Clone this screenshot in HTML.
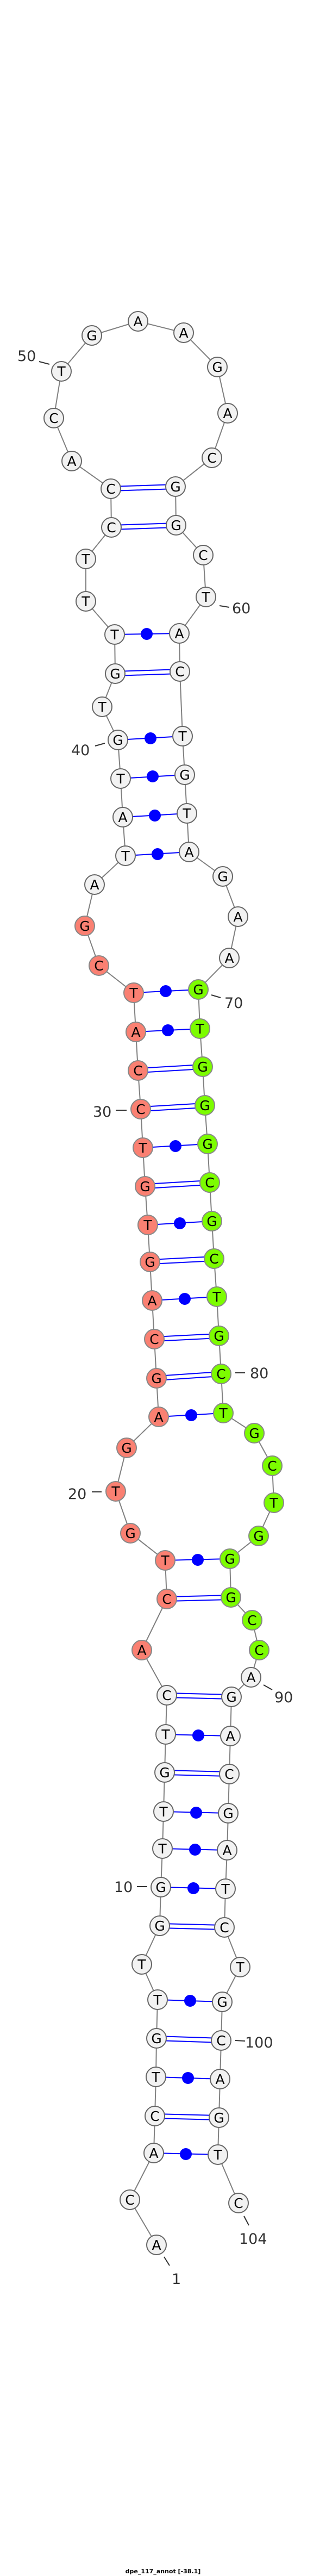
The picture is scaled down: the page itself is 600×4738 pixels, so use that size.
<!DOCTYPE html>
<html><head><meta charset="utf-8"><style>
html,body{margin:0;padding:0;background:#fff;}
svg{display:block;}
.n{fill:#f2f2f2;stroke:#666;stroke-width:2;}
.r{fill:#fa8072;stroke:#888;stroke-width:2;}
.g{fill:#7cfc00;stroke:#888;stroke-width:2;}
.t{font-family:"DejaVu Sans","Liberation Sans",sans-serif;font-size:25px;text-anchor:middle;fill:#000;}
.l{font-family:"DejaVu Sans","Liberation Sans",sans-serif;font-size:27px;fill:#333;}
.k{stroke:#333;stroke-width:2;}
.p{stroke:#0000ff;stroke-width:2;}
</style></head><body>
<svg width="600" height="4738" viewBox="0 0 600 4738" xmlns="http://www.w3.org/2000/svg">
<polyline fill="none" stroke="#808080" stroke-width="2" points="288,4129 239,4046 283,3960 285,3892 287,3820 288,3749 290,3678 261,3613 294,3542 296,3471 299,3400 301,3332 303,3260 305,3190 307,3118 261,3035 307,2941 304,2870 240,2820 213,2743 233,2663 292,2606 288,2535 284,2463 280,2392 276,2321 272,2253 267,2182 263,2111 259,2040 254,1969 250,1898 246,1826 182,1776 156,1703 174,1627 231,1574 226,1503 222,1432 217,1361 188,1300 212,1239 211,1167 158,1106 158,1028 205,970 204,899 132,848 99,769 113,683 169,617 254,591 338,612 400,675 419,760 390,842 323,895 324,966 374,1021 379,1098 330,1165 331,1235 336,1354 340,1425 344,1496 348,1567 410,1612 438,1686 422,1762 365,1820 368,1892 373,1962 377,2033 382,2104 386,2175 390,2246 394,2315 399,2385 403,2457 407,2527 411,2599 468,2636 501,2696 504,2764 476,2825 423,2867 425,2938 464,2980 477,3035 462,3085 426,3121 424,3193 422,3263 420,3335 418,3403 415,3474 413,3545 442,3618 409,3682 407,3753 405,3824 403,3895 401,3963 439,4052"/>
<g class="p">
<line x1="204" y1="895" x2="323" y2="891"/><line x1="204" y1="903" x2="323" y2="899"/>
<line x1="205" y1="966" x2="324" y2="962"/><line x1="205" y1="974" x2="324" y2="970"/>
<line x1="211" y1="1167" x2="330" y2="1165"/>
<line x1="212" y1="1235" x2="331" y2="1231"/><line x1="212" y1="1243" x2="331" y2="1239"/>
<line x1="217" y1="1361" x2="336" y2="1354"/>
<line x1="222" y1="1432" x2="340" y2="1425"/>
<line x1="226" y1="1503" x2="344" y2="1496"/>
<line x1="231" y1="1574" x2="348" y2="1567"/>
<line x1="246" y1="1826" x2="365" y2="1820"/>
<line x1="250" y1="1898" x2="368" y2="1892"/>
<line x1="254" y1="1965" x2="373" y2="1958"/><line x1="254" y1="1973" x2="373" y2="1966"/>
<line x1="259" y1="2036" x2="377" y2="2029"/><line x1="259" y1="2044" x2="377" y2="2037"/>
<line x1="263" y1="2111" x2="382" y2="2104"/>
<line x1="267" y1="2178" x2="386" y2="2171"/><line x1="267" y1="2186" x2="386" y2="2179"/>
<line x1="272" y1="2253" x2="390" y2="2246"/>
<line x1="276" y1="2317" x2="394" y2="2311"/><line x1="276" y1="2325" x2="394" y2="2319"/>
<line x1="280" y1="2392" x2="399" y2="2385"/>
<line x1="284" y1="2459" x2="403" y2="2453"/><line x1="284" y1="2467" x2="403" y2="2461"/>
<line x1="288" y1="2531" x2="407" y2="2523"/><line x1="288" y1="2539" x2="407" y2="2531"/>
<line x1="292" y1="2606" x2="411" y2="2599"/>
<line x1="304" y1="2870" x2="423" y2="2867"/>
<line x1="307" y1="2937" x2="425" y2="2934"/><line x1="307" y1="2945" x2="425" y2="2942"/>
<line x1="307" y1="3114" x2="426" y2="3117"/><line x1="307" y1="3122" x2="426" y2="3125"/>
<line x1="305" y1="3190" x2="424" y2="3193"/>
<line x1="303" y1="3256" x2="422" y2="3259"/><line x1="303" y1="3264" x2="422" y2="3267"/>
<line x1="301" y1="3332" x2="420" y2="3335"/>
<line x1="299" y1="3400" x2="418" y2="3403"/>
<line x1="296" y1="3471" x2="415" y2="3474"/>
<line x1="294" y1="3538" x2="413" y2="3541"/><line x1="294" y1="3546" x2="413" y2="3549"/>
<line x1="290" y1="3678" x2="409" y2="3682"/>
<line x1="288" y1="3745" x2="407" y2="3749"/><line x1="288" y1="3753" x2="407" y2="3757"/>
<line x1="287" y1="3820" x2="405" y2="3824"/>
<line x1="285" y1="3888" x2="403" y2="3891"/><line x1="285" y1="3896" x2="403" y2="3899"/>
<line x1="283" y1="3960" x2="401" y2="3963"/>
</g>
<g fill="#0000ff">
<circle cx="270" cy="1166" r="11"/><circle cx="277" cy="1358" r="11"/><circle cx="281" cy="1428" r="11"/><circle cx="285" cy="1500" r="11"/><circle cx="290" cy="1571" r="11"/>
<circle cx="305" cy="1823" r="11"/><circle cx="309" cy="1895" r="11"/><circle cx="323" cy="2108" r="11"/><circle cx="331" cy="2250" r="11"/><circle cx="340" cy="2389" r="11"/><circle cx="352" cy="2603" r="11"/>
<circle cx="364" cy="2869" r="11"/><circle cx="365" cy="3192" r="11"/><circle cx="361" cy="3334" r="11"/><circle cx="359" cy="3402" r="11"/><circle cx="356" cy="3473" r="11"/><circle cx="350" cy="3680" r="11"/><circle cx="346" cy="3822" r="11"/><circle cx="342" cy="3962" r="11"/>
</g>
<g class="k">
<line x1="72" y1="665" x2="91" y2="670"/>
<line x1="404" y1="1114" x2="422" y2="1117"/>
<line x1="175" y1="1372" x2="193" y2="1367"/>
<line x1="389" y1="1830" x2="406" y2="1835"/>
<line x1="213" y1="2042" x2="233" y2="2042"/>
<line x1="433" y1="2525" x2="451" y2="2525"/>
<line x1="169" y1="2744" x2="187" y2="2744"/>
<line x1="485" y1="3099" x2="501" y2="3108"/>
<line x1="252" y1="3470" x2="271" y2="3470"/>
<line x1="433" y1="3753" x2="451" y2="3754"/>
<line x1="449" y1="4076" x2="458" y2="4093"/>
<line x1="302" y1="4151" x2="312" y2="4167"/>
</g>
<g class="l">
<text x="32" y="664">50</text>
<text x="427" y="1128">60</text>
<text x="131" y="1389">40</text>
<text x="413" y="1854">70</text>
<text x="171" y="2054">30</text>
<text x="460" y="2535">80</text>
<text x="125" y="2757">20</text>
<text x="505" y="3131">90</text>
<text x="210" y="3480">10</text>
<text x="451" y="3766">100</text>
<text x="440" y="4127">104</text>
<text x="316" y="4201">1</text>
</g>
<g>
<circle class="n" cx="288" cy="4129" r="18"/><circle class="n" cx="239" cy="4046" r="18"/><circle class="n" cx="283" cy="3960" r="18"/><circle class="n" cx="285" cy="3892" r="18"/><circle class="n" cx="287" cy="3820" r="18"/><circle class="n" cx="288" cy="3749" r="18"/><circle class="n" cx="290" cy="3678" r="18"/><circle class="n" cx="261" cy="3613" r="18"/><circle class="n" cx="294" cy="3542" r="18"/><circle class="n" cx="296" cy="3471" r="18"/><circle class="n" cx="299" cy="3400" r="18"/><circle class="n" cx="301" cy="3332" r="18"/><circle class="n" cx="303" cy="3260" r="18"/><circle class="n" cx="305" cy="3190" r="18"/><circle class="n" cx="307" cy="3118" r="18"/>
<circle class="r" cx="261" cy="3035" r="18"/><circle class="r" cx="307" cy="2941" r="18"/><circle class="r" cx="304" cy="2870" r="18"/><circle class="r" cx="240" cy="2820" r="18"/><circle class="r" cx="213" cy="2743" r="18"/><circle class="r" cx="233" cy="2663" r="18"/><circle class="r" cx="292" cy="2606" r="18"/><circle class="r" cx="288" cy="2535" r="18"/><circle class="r" cx="284" cy="2463" r="18"/><circle class="r" cx="280" cy="2392" r="18"/><circle class="r" cx="276" cy="2321" r="18"/><circle class="r" cx="272" cy="2253" r="18"/><circle class="r" cx="267" cy="2182" r="18"/><circle class="r" cx="263" cy="2111" r="18"/><circle class="r" cx="259" cy="2040" r="18"/><circle class="r" cx="254" cy="1969" r="18"/><circle class="r" cx="250" cy="1898" r="18"/><circle class="r" cx="246" cy="1826" r="18"/><circle class="r" cx="182" cy="1776" r="18"/><circle class="r" cx="156" cy="1703" r="18"/>
<circle class="n" cx="174" cy="1627" r="18"/><circle class="n" cx="231" cy="1574" r="18"/><circle class="n" cx="226" cy="1503" r="18"/><circle class="n" cx="222" cy="1432" r="18"/><circle class="n" cx="217" cy="1361" r="18"/><circle class="n" cx="188" cy="1300" r="18"/><circle class="n" cx="212" cy="1239" r="18"/><circle class="n" cx="211" cy="1167" r="18"/><circle class="n" cx="158" cy="1106" r="18"/><circle class="n" cx="158" cy="1028" r="18"/><circle class="n" cx="205" cy="970" r="18"/><circle class="n" cx="204" cy="899" r="18"/><circle class="n" cx="132" cy="848" r="18"/><circle class="n" cx="99" cy="769" r="18"/><circle class="n" cx="113" cy="683" r="18"/><circle class="n" cx="169" cy="617" r="18"/><circle class="n" cx="254" cy="591" r="18"/><circle class="n" cx="338" cy="612" r="18"/><circle class="n" cx="400" cy="675" r="18"/><circle class="n" cx="419" cy="760" r="18"/><circle class="n" cx="390" cy="842" r="18"/><circle class="n" cx="323" cy="895" r="18"/><circle class="n" cx="324" cy="966" r="18"/><circle class="n" cx="374" cy="1021" r="18"/><circle class="n" cx="379" cy="1098" r="18"/><circle class="n" cx="330" cy="1165" r="18"/><circle class="n" cx="331" cy="1235" r="18"/><circle class="n" cx="336" cy="1354" r="18"/><circle class="n" cx="340" cy="1425" r="18"/><circle class="n" cx="344" cy="1496" r="18"/><circle class="n" cx="348" cy="1567" r="18"/><circle class="n" cx="410" cy="1612" r="18"/><circle class="n" cx="438" cy="1686" r="18"/><circle class="n" cx="422" cy="1762" r="18"/>
<circle class="g" cx="365" cy="1820" r="18"/><circle class="g" cx="368" cy="1892" r="18"/><circle class="g" cx="373" cy="1962" r="18"/><circle class="g" cx="377" cy="2033" r="18"/><circle class="g" cx="382" cy="2104" r="18"/><circle class="g" cx="386" cy="2175" r="18"/><circle class="g" cx="390" cy="2246" r="18"/><circle class="g" cx="394" cy="2315" r="18"/><circle class="g" cx="399" cy="2385" r="18"/><circle class="g" cx="403" cy="2457" r="18"/><circle class="g" cx="407" cy="2527" r="18"/><circle class="g" cx="411" cy="2599" r="18"/><circle class="g" cx="468" cy="2636" r="18"/><circle class="g" cx="501" cy="2696" r="18"/><circle class="g" cx="504" cy="2764" r="18"/><circle class="g" cx="476" cy="2825" r="18"/><circle class="g" cx="423" cy="2867" r="18"/><circle class="g" cx="425" cy="2938" r="18"/><circle class="g" cx="464" cy="2980" r="18"/><circle class="g" cx="477" cy="3035" r="18"/>
<circle class="n" cx="462" cy="3085" r="18"/><circle class="n" cx="426" cy="3121" r="18"/><circle class="n" cx="424" cy="3193" r="18"/><circle class="n" cx="422" cy="3263" r="18"/><circle class="n" cx="420" cy="3335" r="18"/><circle class="n" cx="418" cy="3403" r="18"/><circle class="n" cx="415" cy="3474" r="18"/><circle class="n" cx="413" cy="3545" r="18"/><circle class="n" cx="442" cy="3618" r="18"/><circle class="n" cx="409" cy="3682" r="18"/><circle class="n" cx="407" cy="3753" r="18"/><circle class="n" cx="405" cy="3824" r="18"/><circle class="n" cx="403" cy="3895" r="18"/><circle class="n" cx="401" cy="3963" r="18"/><circle class="n" cx="439" cy="4052" r="18"/>
</g>
<g class="t">
<text x="288" y="4138">A</text><text x="239" y="4055">C</text><text x="283" y="3969">A</text><text x="285" y="3901">C</text><text x="287" y="3829">T</text><text x="288" y="3758">G</text><text x="290" y="3687">T</text><text x="261" y="3622">T</text><text x="294" y="3551">G</text><text x="296" y="3480">G</text><text x="299" y="3409">T</text><text x="301" y="3341">T</text><text x="303" y="3269">G</text><text x="305" y="3199">T</text><text x="307" y="3127">C</text>
<text x="261" y="3044">A</text><text x="307" y="2950">C</text><text x="304" y="2879">T</text><text x="240" y="2829">G</text><text x="213" y="2752">T</text><text x="233" y="2672">G</text><text x="292" y="2615">A</text><text x="288" y="2544">G</text><text x="284" y="2472">C</text><text x="280" y="2401">A</text><text x="276" y="2330">G</text><text x="272" y="2262">T</text><text x="267" y="2191">G</text><text x="263" y="2120">T</text><text x="259" y="2049">C</text><text x="254" y="1978">C</text><text x="250" y="1907">A</text><text x="246" y="1835">T</text><text x="182" y="1785">C</text><text x="156" y="1712">G</text>
<text x="174" y="1636">A</text><text x="231" y="1583">T</text><text x="226" y="1512">A</text><text x="222" y="1441">T</text><text x="217" y="1370">G</text><text x="188" y="1309">T</text><text x="212" y="1248">G</text><text x="211" y="1176">T</text><text x="158" y="1115">T</text><text x="158" y="1037">T</text><text x="205" y="979">C</text><text x="204" y="908">C</text><text x="132" y="857">A</text><text x="99" y="778">C</text><text x="113" y="692">T</text><text x="169" y="626">G</text><text x="254" y="600">A</text><text x="338" y="621">A</text><text x="400" y="684">G</text><text x="419" y="769">A</text><text x="390" y="851">C</text><text x="323" y="904">G</text><text x="324" y="975">G</text><text x="374" y="1030">C</text><text x="379" y="1107">T</text><text x="330" y="1174">A</text><text x="331" y="1244">C</text><text x="336" y="1363">T</text><text x="340" y="1434">G</text><text x="344" y="1505">T</text><text x="348" y="1576">A</text><text x="410" y="1621">G</text><text x="438" y="1695">A</text><text x="422" y="1771">A</text>
<text x="365" y="1829">G</text><text x="368" y="1901">T</text><text x="373" y="1971">G</text><text x="377" y="2042">G</text><text x="382" y="2113">G</text><text x="386" y="2184">C</text><text x="390" y="2255">G</text><text x="394" y="2324">C</text><text x="399" y="2394">T</text><text x="403" y="2466">G</text><text x="407" y="2536">C</text><text x="411" y="2608">T</text><text x="468" y="2645">G</text><text x="501" y="2705">C</text><text x="504" y="2773">T</text><text x="476" y="2834">G</text><text x="423" y="2876">G</text><text x="425" y="2947">G</text><text x="464" y="2989">C</text><text x="477" y="3044">C</text>
<text x="462" y="3094">A</text><text x="426" y="3130">G</text><text x="424" y="3202">A</text><text x="422" y="3272">C</text><text x="420" y="3344">G</text><text x="418" y="3412">A</text><text x="415" y="3483">T</text><text x="413" y="3554">C</text><text x="442" y="3627">T</text><text x="409" y="3691">G</text><text x="407" y="3762">C</text><text x="405" y="3833">A</text><text x="403" y="3904">G</text><text x="401" y="3972">T</text><text x="439" y="4061">C</text>
</g>
<text x="300" y="4733" text-anchor="middle" font-family="'DejaVu Sans','Liberation Sans',sans-serif" font-size="11" font-weight="bold" fill="#000">dpe_117_annot [-38.1]</text>
</svg>
</body></html>
